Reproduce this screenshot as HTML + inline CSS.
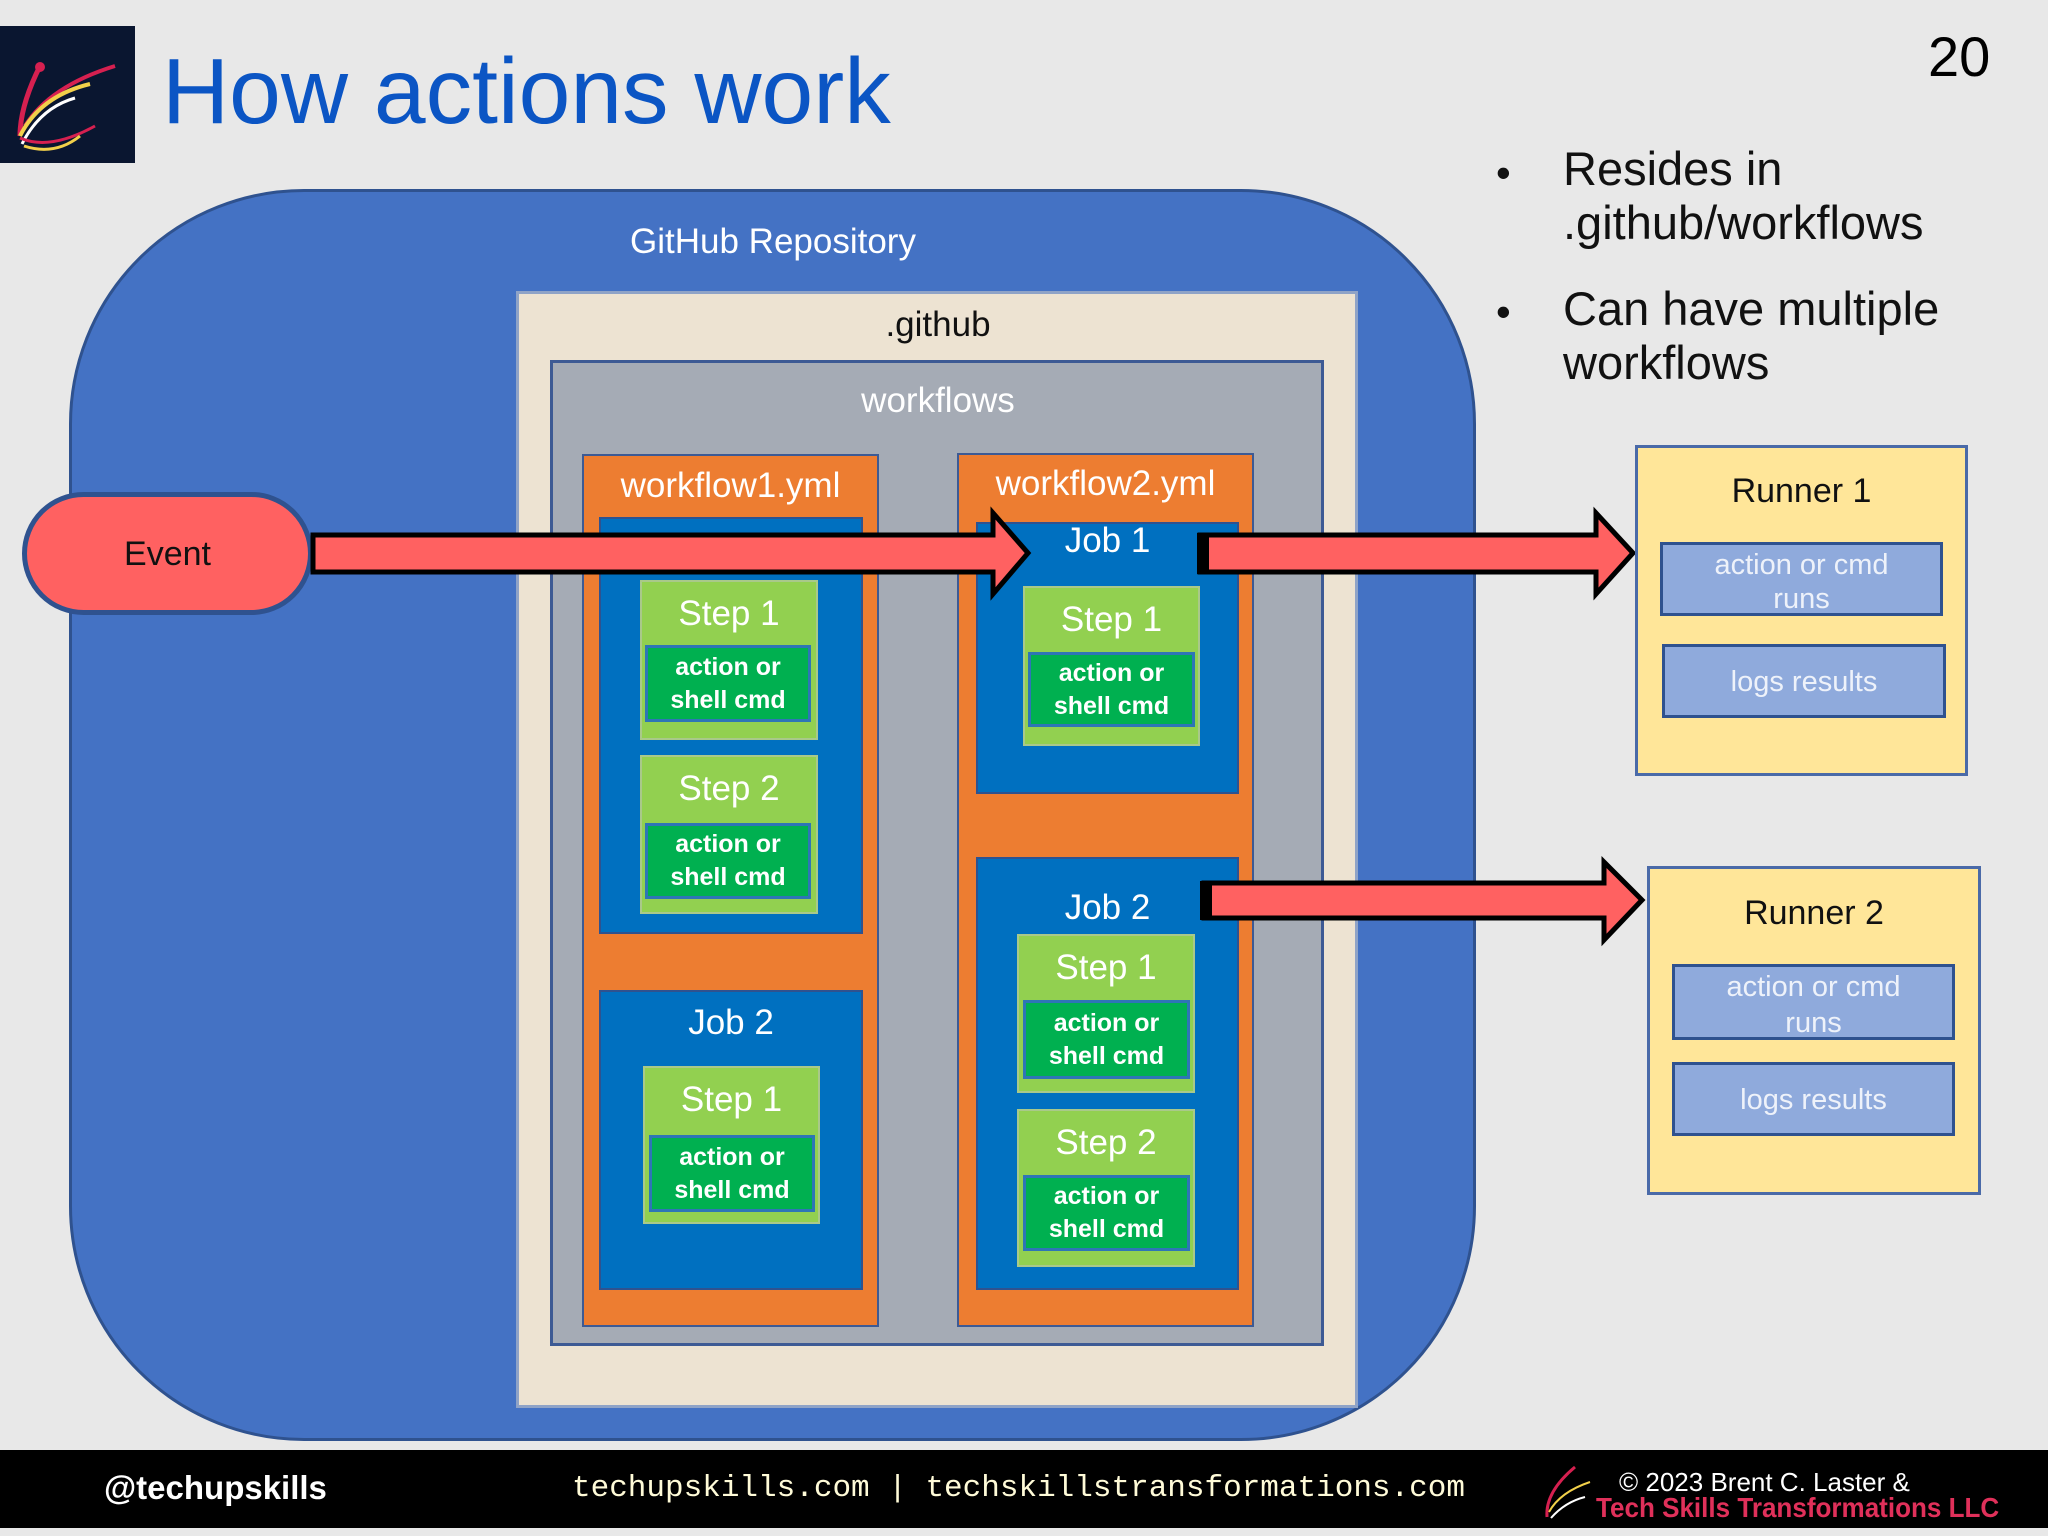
<!DOCTYPE html>
<html><head><meta charset="utf-8"><style>
*{margin:0;padding:0;box-sizing:border-box}
body{width:2048px;height:1536px;background:#e8e8e8;position:relative;overflow:hidden;font-family:"Liberation Sans",sans-serif}
.a{position:absolute}
.t{position:absolute;text-align:center;white-space:nowrap;line-height:1.2}
.job{position:absolute;background:#0070c0;border:2px solid #2f528f}
.step{position:absolute;background:#92d050;border:2px solid #a9c98a}
.cmd{position:absolute;background:#00b050;border:3px solid #2e75b6;color:#fff;font-weight:bold;font-size:25px;line-height:33px;text-align:center;display:flex;align-items:center;justify-content:center}
.rb{position:absolute;background:#8faadc;border:3px solid #2f528f;color:#eef2fa;font-size:29px;text-align:center}
</style></head><body>
<!-- logo -->
<div class="a" style="left:0;top:26px;width:135px;height:137px;background:#0a1630">
<svg width="135" height="137" viewBox="0 0 135 137"><path d="M40 40 Q20 80 20 110" stroke="#d62050" stroke-width="5" fill="none"/><circle cx="40" cy="41" r="5" fill="#d62050"/><path d="M25 100 Q50 60 115 40" stroke="#d62050" stroke-width="4" fill="none"/><path d="M20 110 Q40 70 90 58" stroke="#f2d04a" stroke-width="4" fill="none"/><path d="M22 118 Q40 82 75 72" stroke="#fff" stroke-width="3" fill="none"/><path d="M20 112 Q50 125 95 100" stroke="#d62050" stroke-width="3" fill="none"/><path d="M24 120 Q55 130 80 110" stroke="#f2d04a" stroke-width="3" fill="none"/></svg></div>
<div class="a" style="left:162px;top:31px;font-size:93px;color:#0b55c4;line-height:120px;white-space:nowrap">How actions work</div>
<div class="a" style="left:1928px;top:24px;font-size:56px;line-height:66px">20</div>

<!-- repo -->
<div class="a" style="left:69px;top:189px;width:1407px;height:1252px;background:#4472c4;border:3px solid #2f528f;border-radius:235px"></div>
<div class="t" style="left:573px;width:400px;top:221px;font-size:35px;color:#fff">GitHub Repository</div>
<div class="a" style="left:516px;top:291px;width:842px;height:1117px;background:#ede3d2;border:3px solid #8fa3c7"></div>
<div class="t" style="left:738px;width:400px;top:304px;font-size:35px;color:#111">.github</div>
<div class="a" style="left:550px;top:360px;width:774px;height:986px;background:#a5abb5;border:3px solid #3d5a94"></div>
<div class="t" style="left:738px;width:400px;top:380px;font-size:35px;color:#fff">workflows</div>

<!-- workflow1 -->
<div class="a" style="left:582px;top:454px;width:297px;height:873px;background:#ed7d31;border:2px solid #3d5a94"></div>
<div class="t" style="left:582px;width:297px;top:465px;font-size:35px;color:#fff">workflow1.yml</div>
<div class="job" style="left:599px;top:517px;width:264px;height:417px"></div>
<div class="step" style="left:640px;top:580px;width:178px;height:160px"></div>
<div class="t" style="left:640px;width:178px;top:593px;font-size:35px;color:#fff">Step 1</div>
<div class="cmd" style="left:645px;top:645px;width:166px;height:77px">action or<br>shell cmd</div>
<div class="step" style="left:640px;top:755px;width:178px;height:159px"></div>
<div class="t" style="left:640px;width:178px;top:768px;font-size:35px;color:#fff">Step 2</div>
<div class="cmd" style="left:645px;top:823px;width:166px;height:76px">action or<br>shell cmd</div>
<div class="job" style="left:599px;top:990px;width:264px;height:300px"></div>
<div class="t" style="left:599px;width:264px;top:1002px;font-size:35px;color:#fff">Job 2</div>
<div class="step" style="left:643px;top:1066px;width:177px;height:158px"></div>
<div class="t" style="left:643px;width:177px;top:1079px;font-size:35px;color:#fff">Step 1</div>
<div class="cmd" style="left:649px;top:1135px;width:166px;height:77px">action or<br>shell cmd</div>

<!-- workflow2 -->
<div class="a" style="left:957px;top:453px;width:297px;height:874px;background:#ed7d31;border:2px solid #3d5a94"></div>
<div class="t" style="left:957px;width:297px;top:463px;font-size:35px;color:#fff">workflow2.yml</div>
<div class="job" style="left:976px;top:522px;width:263px;height:272px"></div>
<div class="t" style="left:976px;width:263px;top:520px;font-size:35px;color:#fff">Job 1</div>
<div class="step" style="left:1023px;top:586px;width:177px;height:160px"></div>
<div class="t" style="left:1023px;width:177px;top:599px;font-size:35px;color:#fff">Step 1</div>
<div class="cmd" style="left:1028px;top:652px;width:167px;height:75px">action or<br>shell cmd</div>
<div class="job" style="left:976px;top:857px;width:263px;height:433px"></div>
<div class="t" style="left:976px;width:263px;top:887px;font-size:35px;color:#fff">Job 2</div>
<div class="step" style="left:1017px;top:934px;width:178px;height:159px"></div>
<div class="t" style="left:1017px;width:178px;top:947px;font-size:35px;color:#fff">Step 1</div>
<div class="cmd" style="left:1023px;top:1000px;width:167px;height:79px">action or<br>shell cmd</div>
<div class="step" style="left:1017px;top:1109px;width:178px;height:158px"></div>
<div class="t" style="left:1017px;width:178px;top:1122px;font-size:35px;color:#fff">Step 2</div>
<div class="cmd" style="left:1023px;top:1175px;width:167px;height:76px">action or<br>shell cmd</div>

<!-- event -->
<div class="a" style="left:22px;top:492px;width:291px;height:123px;background:#ff6161;border:5px solid #2f528f;border-radius:62px"></div>
<div class="t" style="left:22px;width:291px;top:534px;font-size:34px;color:#111">Event</div>

<!-- arrows -->
<svg class="a" style="left:0;top:0" width="2048" height="1536">
<polygon points="313,535 993,535 993,513 1028,553 993,594 993,572 313,572" fill="#ff6161" stroke="#000" stroke-width="5"/>
<polygon points="1200,535 1596,535 1596,513 1633,553 1596,594 1596,572 1200,572" fill="#ff6161" stroke="#000" stroke-width="5"/>
<rect x="1197" y="533" width="12" height="41" fill="#000"/>
<polygon points="1204,883 1604,883 1604,862 1642,900 1604,940 1604,918 1204,918" fill="#ff6161" stroke="#000" stroke-width="5"/>
<rect x="1200" y="881" width="12" height="39" fill="#000"/>
</svg>

<!-- runners -->
<div class="a" style="left:1635px;top:445px;width:333px;height:331px;background:#ffe699;border:3px solid #4a6aa8"></div>
<div class="t" style="left:1635px;width:333px;top:471px;font-size:34px;color:#111">Runner 1</div>
<div class="rb" style="left:1660px;top:542px;width:283px;height:74px;line-height:40px;padding-top:0">action or cmd<br><span style="position:relative;top:-6px">runs</span></div>
<div class="rb" style="left:1662px;top:644px;width:284px;height:74px;line-height:70px">logs results</div>
<div class="a" style="left:1647px;top:866px;width:334px;height:329px;background:#ffe699;border:3px solid #4a6aa8"></div>
<div class="t" style="left:1647px;width:334px;top:893px;font-size:34px;color:#111">Runner 2</div>
<div class="rb" style="left:1672px;top:964px;width:283px;height:76px;line-height:40px">action or cmd<br><span style="position:relative;top:-4px">runs</span></div>
<div class="rb" style="left:1672px;top:1062px;width:283px;height:74px;line-height:70px">logs results</div>

<!-- bullets -->
<div class="a" style="left:1496px;top:146px;font-size:42px;line-height:54px;color:#111">•</div>
<div class="a" style="left:1563px;top:142px;font-size:47px;line-height:54px;color:#111">Resides in<br>.github/workflows</div>
<div class="a" style="left:1496px;top:285px;font-size:42px;line-height:54px;color:#111">•</div>
<div class="a" style="left:1563px;top:282px;font-size:47px;line-height:54px;color:#111">Can have multiple<br>workflows</div>

<!-- footer -->
<div class="a" style="left:0;top:1450px;width:2048px;height:78px;background:#000"></div>
<div class="a" style="left:104px;top:1469px;font-size:33px;font-weight:bold;color:#fff;line-height:38px">@techupskills</div>
<div class="a" style="left:572px;top:1470px;font-size:31px;font-family:'Liberation Mono',monospace;color:#fffbd8;line-height:38px;white-space:nowrap">techupskills.com | techskillstransformations.com</div>
<svg class="a" style="left:1535px;top:1462px" width="60" height="60"><path d="M40 5 Q10 30 12 55" stroke="#d62050" stroke-width="3" fill="none"/><path d="M14 50 Q25 30 55 20" stroke="#f2d04a" stroke-width="2" fill="none"/><path d="M16 56 Q30 40 50 35" stroke="#fff" stroke-width="2" fill="none"/></svg>
<div class="a" style="left:1619px;top:1467px;font-size:26px;color:#fff;line-height:30px;white-space:nowrap">© 2023 Brent C. Laster &amp;</div>
<div class="a" style="left:1596px;top:1492px;font-size:28px;font-weight:bold;color:#e0305a;line-height:32px;white-space:nowrap;transform-origin:0 0;transform:scaleX(0.93)">Tech Skills Transformations LLC</div>
</body></html>
